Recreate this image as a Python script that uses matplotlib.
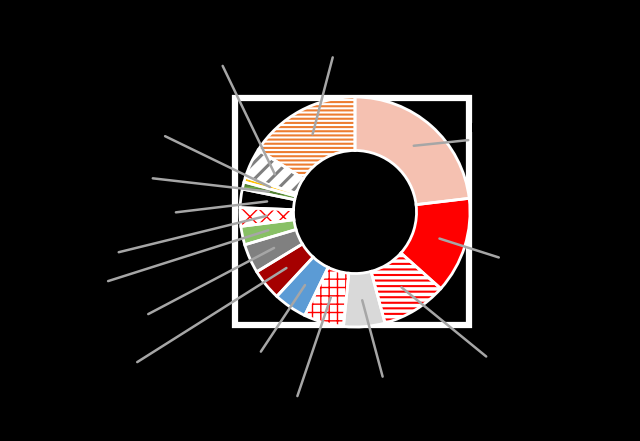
import numpy as np
import matplotlib
matplotlib.use("Agg")
import matplotlib.pyplot as plt
from matplotlib.patches import Rectangle

# ---- data (clockwise from 12 o'clock) ----
categories = [
    "Мясо и птица",
    "Молоко и молочные\nпродукты",
    "Хлебобулочные\nизделия",
    "Овощи и бахчевые",
    "Фрукты, ягоды и орехи",
    "Рыба, икра",
    "Кондитерские изделия",
    "Масла и жиры",
    "Крупы и макароны",
    "Сахар, соль",
    "Чай, кофе, какао и пряности",
    "Безалкогольные напитки,\nвода, соки",
    "Прочее",
    "Алкоголь",
    "Общественное питание",
]
values = [23.1, 13.5, 9.2, 5.8, 5.6, 4.7, 4.4, 4.1, 2.6, 2.6, 2.6, 1.0, 0.7, 4.2, 15.9]

# ---- styles ----
face_colors = ["#F5C1B1", "#FF0000", "#FFFFFF", "#D9D9D9", "#FFFFFF", "#5B9BD5",
               "#A50000", "#808080", "#88C065", "#FFFFFF", "#000000", "#548235",
               "#FFC000", "#FFFFFF", "#FFFFFF"]
hatch_colors = [None, None, "#FF0000", None, "#FF0000", None,
                None, None, None, "#FF0000", None, "#70AD47",
                None, "#7F7F7F", "#ED7D31"]
hatches = [None, None, "---", None, "++", None,
           None, None, None, "xx", None, "--",
           None, "//", "----"]
hatch_lw = [1, 1, 1.5, 1, 1.0, 1, 1, 1, 1, 1.0, 1, 1.0, 1, 2.2, 1.5]

# label anchor positions (pixels from top-left)
label_px = [(508, 136), (557, 276), (515, 380), (387, 393), (292, 412),
            (250, 368), (112, 378), (118, 330), (58, 297), (83, 261),
            (95, 222), (80, 170), (142, 125), (215, 50), (337, 41)]

W, H = 640, 441
BG = "black"
fig = plt.figure(figsize=(W / 100, H / 100), dpi=100, facecolor=BG)
ax = fig.add_axes([0, 0, 1, 1])

cx, cy, R = 355, H - 212, 115
ring = 0.465 * R

# white frame of plot area
ax.add_patch(Rectangle((235, H - 325), 234, 227, fill=False,
                       edgecolor="white", lw=4.5, zorder=0.5))

plt.rcParams["hatch.linewidth"] = 1.5
wedges, _ = ax.pie(values, radius=R, center=(cx, cy), startangle=90,
                   counterclock=False, colors=face_colors,
                   wedgeprops=dict(width=ring, linewidth=0), frame=True)
for w, hc, h, hl in zip(wedges, hatch_colors, hatches, hatch_lw):
    if h:
        w.set_edgecolor(hc)
        w.set_linewidth(0)
        w.set_hatch(h)
        if hasattr(w, "set_hatch_linewidth"):
            w.set_hatch_linewidth(hl)
    w.set_zorder(1)

# white separators
sep, _ = ax.pie(values, radius=R, center=(cx, cy), startangle=90,
                counterclock=False, colors=["none"] * len(values),
                wedgeprops=dict(width=ring, linewidth=2, edgecolor="white"),
                frame=True)
for s in sep:
    s.set_zorder(2)

ax.set_xlim(0, W)
ax.set_ylim(0, H)
ax.set_aspect("equal")
ax.axis("off")

total = sum(values)
for w, cat, v, (lx, ly) in zip(wedges, categories, values, label_px):
    mid = np.deg2rad((w.theta1 + w.theta2) / 2)
    r = 0.77 * R
    px, py = cx + r * np.cos(mid), cy + r * np.sin(mid)
    txt = f"{cat}\n{round(v / total * 100):.0f}%"
    ax.annotate(txt, xy=(px, py), xytext=(lx, H - ly), textcoords="data",
                ha="center", va="center", fontsize=8.5, color="black",
                family=["Liberation Sans", "DejaVu Sans"], linespacing=1.25,
                arrowprops=dict(arrowstyle="-", color="#A6A6A6", lw=1.8,
                                shrinkA=0, shrinkB=0),
                zorder=3, annotation_clip=False)

fig.savefig("out.png", dpi=100, facecolor=BG)
